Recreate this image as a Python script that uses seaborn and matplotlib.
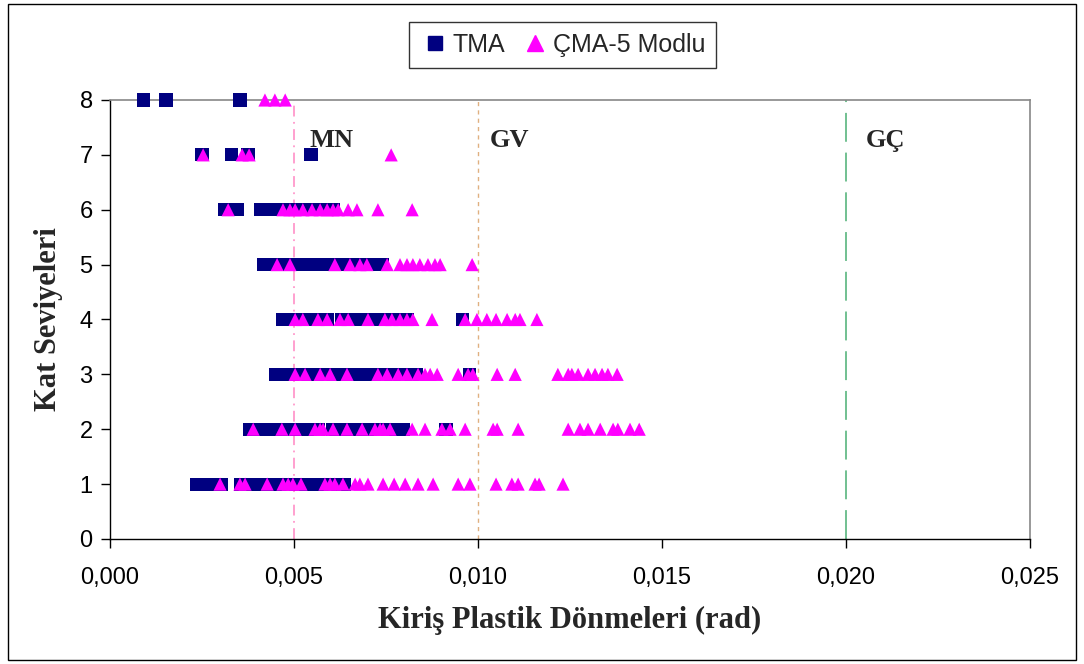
import pandas as pd
import numpy as np
import matplotlib
matplotlib.use("Agg")
import matplotlib.pyplot as plt
import seaborn as sns
from matplotlib.patches import Rectangle
from matplotlib.lines import Line2D

# TMA rotations per storey (rad)
tma = {
    8: [0.00092, 0.00152, 0.00353],
    7: [0.00250, 0.00331, 0.00375, 0.00546],
    6: [0.00312, 0.00345, 0.00410, 0.00432, 0.00454, 0.00476, 0.00497, 0.00519,
        0.00541, 0.00562, 0.00584, 0.00606],
    5: [0.00416, 0.00438, 0.00459, 0.00481, 0.00503, 0.00519, 0.00557, 0.00579,
        0.00601, 0.00622, 0.00644, 0.00666, 0.00688, 0.00709, 0.00731, 0.00739],
    4: [0.00470, 0.00492, 0.00514, 0.00535, 0.00557, 0.00579, 0.00592, 0.00630,
        0.00652, 0.00674, 0.00696, 0.00712, 0.00747, 0.00769, 0.00791, 0.00807,
        0.00957],
    3: [0.00451, 0.00473, 0.00495, 0.00516, 0.00538, 0.00560, 0.00582, 0.00603,
        0.00625, 0.00647, 0.00668, 0.00690, 0.00712, 0.00734, 0.00755, 0.00777,
        0.00799, 0.00821, 0.00832, 0.00976],
    2: [0.00380, 0.00402, 0.00424, 0.00446, 0.00467, 0.00489, 0.00511, 0.00533,
        0.00554, 0.00565, 0.00606, 0.00628, 0.00649, 0.00671, 0.00693, 0.00715,
        0.00736, 0.00758, 0.00780, 0.00796, 0.00913],
    1: [0.00236, 0.00258, 0.00280, 0.00304, 0.00356, 0.00378, 0.00399, 0.00421,
        0.00443, 0.00465, 0.00486, 0.00508, 0.00530, 0.00552, 0.00573, 0.00595,
        0.00617, 0.00636],
}

# CMA-5 mode rotations per storey (rad)
cma = {
    8: [0.00421, 0.00448, 0.00476],
    7: [0.00253, 0.00359, 0.00378, 0.00764],
    6: [0.00321, 0.00470, 0.00489, 0.00503, 0.00524, 0.00549, 0.00571, 0.00590,
        0.00606, 0.00620, 0.00647, 0.00671, 0.00728, 0.00821],
    5: [0.00454, 0.00489, 0.00611, 0.00652, 0.00679, 0.00698, 0.00753, 0.00788,
        0.00807, 0.00823, 0.00842, 0.00864, 0.00883, 0.00897, 0.00984],
    4: [0.00503, 0.00524, 0.00565, 0.00590, 0.00625, 0.00647, 0.00701, 0.00747,
        0.00766, 0.00788, 0.00807, 0.00823, 0.00875, 0.00965, 0.00997, 0.01024,
        0.01049, 0.01079, 0.01101, 0.01114, 0.01160],
    3: [0.00503, 0.00530, 0.00571, 0.00598, 0.00644, 0.00728, 0.00753, 0.00783,
        0.00807, 0.00837, 0.00856, 0.00870, 0.00889, 0.00946, 0.00973, 0.00986,
        0.01052, 0.01101, 0.01217, 0.01245, 0.01255, 0.01272, 0.01299, 0.01318,
        0.01337, 0.01353, 0.01378],
    2: [0.00389, 0.00467, 0.00503, 0.00557, 0.00571, 0.00579, 0.00606, 0.00644,
        0.00685, 0.00720, 0.00734, 0.00742, 0.00761, 0.00821, 0.00856, 0.00902,
        0.00924, 0.00965, 0.01041, 0.01052, 0.01109, 0.01245, 0.01277, 0.01299,
        0.01332, 0.01367, 0.01380, 0.01413, 0.01438],
    1: [0.00299, 0.00353, 0.00367, 0.00427, 0.00470, 0.00484, 0.00497, 0.00519,
        0.00584, 0.00598, 0.00611, 0.00633, 0.00666, 0.00679, 0.00701, 0.00742,
        0.00772, 0.00802, 0.00837, 0.00878, 0.00946, 0.00978, 0.01049, 0.01092,
        0.01109, 0.01155, 0.01166, 0.01231],
}

limits = [0.005, 0.010, 0.020]
limit_names = ["MN", "GV", "GÇ"]
x_ticks = [0.0, 0.005, 0.010, 0.015, 0.020, 0.025]
x_tick_labels = ["0,000", "0,005", "0,010", "0,015", "0,020", "0,025"]

rows = []
for kat, vals in tma.items():
    for v in vals:
        rows.append(("TMA", v, kat))
for kat, vals in cma.items():
    for v in vals:
        rows.append(("ÇMA-5 Modlu", v, kat))
df = pd.DataFrame(rows, columns=["seri", "donme", "kat"])

sns.set_style("white")
plt.rcParams['font.family'] = ['Liberation Sans', 'DejaVu Sans']

fig = plt.figure(figsize=(10.84, 6.64), dpi=100)
ax = fig.add_axes([0.1015, 0.1883, 0.8487, 0.6611])

colors = {"TMA": "#000080", "ÇMA-5 Modlu": "#FF00FF"}
markers = {"TMA": "s", "ÇMA-5 Modlu": "^"}
sns.scatterplot(data=df, x="donme", y="kat", hue="seri", style="seri",
                palette=colors, markers=markers, s=90, linewidth=0,
                legend=False, ax=ax, clip_on=False, zorder=3)

# limit lines
ax.axvline(limits[0], color="#FF99CC", lw=1.3, ls=(0, (6, 3, 1, 3)), zorder=1)
ax.axvline(limits[1], color="#E0B080", lw=1.0, ls=(0, (3, 3)), zorder=1)
ax.axvline(limits[2], color="#66BB88", lw=1.3, ls=(0, (16, 6)), zorder=1)
label_x = [0.00543, 0.01033, 0.02054]
for lx, name in zip(label_x, limit_names):
    ax.text(lx, 7.27, name, fontsize=19, fontweight="bold",
            family="Liberation Serif", va="center", ha="left")

ax.set_xlim(0, 0.025)
ax.set_ylim(0, 8)
ax.set_xticks(x_ticks)
ax.set_xticklabels(x_tick_labels)
ax.set_yticks(range(0, 9))
ax.tick_params(axis="both", labelsize=17, direction="out", length=6.5,
               width=1, colors="black", left=True, bottom=True)
ax.tick_params(axis="x", pad=14)
ax.tick_params(axis="y", pad=6)
ax.set_xlabel("Kiriş Plastik Dönmeleri (rad)", fontsize=22, fontweight="bold",
              family="Liberation Serif", labelpad=12)
ax.set_ylabel("Kat Seviyeleri", fontsize=22, fontweight="bold",
              family="Liberation Serif", labelpad=12)

for side in ["left", "bottom"]:
    ax.spines[side].set_color("black")
    ax.spines[side].set_linewidth(1)
for side in ["top", "right"]:
    ax.spines[side].set_color("#888888")
    ax.spines[side].set_linewidth(1.2)

handles = [
    Line2D([], [], marker="s", color=colors["TMA"], ls="none", markersize=10),
    Line2D([], [], marker="^", color=colors["ÇMA-5 Modlu"], ls="none", markersize=11),
]
leg = fig.legend(handles, ["TMA", "ÇMA-5 Modlu"], loc="upper center",
                 bbox_to_anchor=(0.519, 0.967), ncol=2, fontsize=18,
                 frameon=True, fancybox=False, edgecolor="black",
                 handletextpad=0.1, columnspacing=0.6, borderpad=0.45,
                 handlelength=1.2, borderaxespad=0)
leg.get_frame().set_linewidth(1)

fig.patches.append(Rectangle((0.007, 0.006), 0.986, 0.988, transform=fig.transFigure,
                             fill=False, edgecolor="black", linewidth=1))

fig.savefig("out.png", dpi=100)
